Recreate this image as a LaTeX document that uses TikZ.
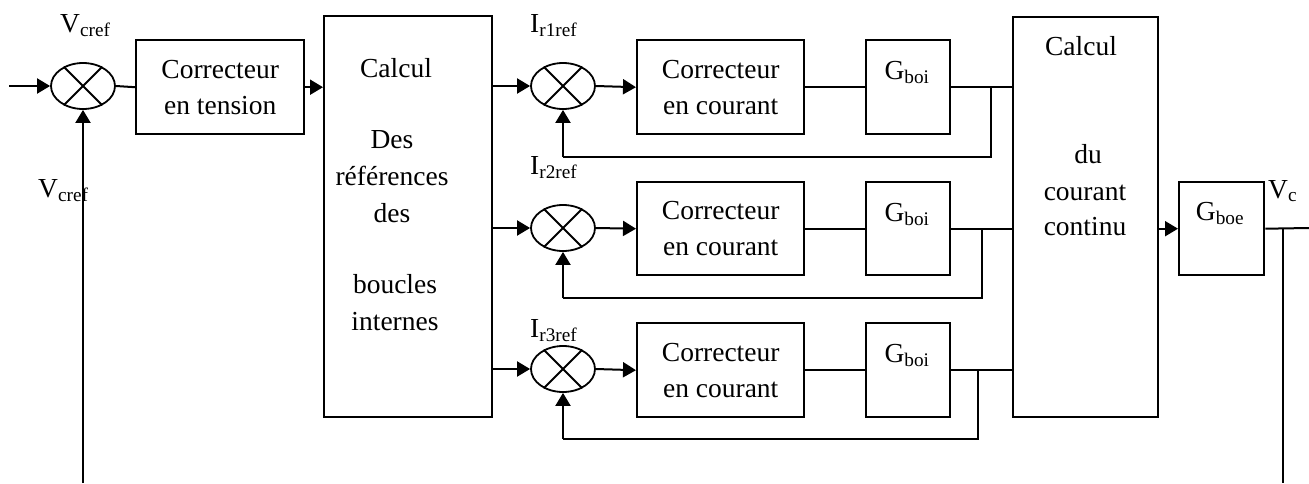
\documentclass[tikz,border=0pt]{standalone}
\usepackage{fontspec}
\setmainfont{Liberation Serif}
\usetikzlibrary{arrows.meta,calc,shapes.geometric}
\begin{document}
\begin{tikzpicture}[x=1pt,y=-1pt,
  font=\fontsize{27.5}{36}\selectfont,
  blk/.style={draw, line width=2.4pt, inner sep=0pt, anchor=north west, align=center},
  sumj/.style={draw, ellipse, line width=1.8pt, minimum width=64pt, minimum height=46pt, inner sep=0pt},
  cross/.style={line width=1.8pt},
  arr/.style={line width=2pt, -{Triangle[length=13pt,width=15pt]}},
  wire/.style={line width=2pt},
  lbl/.style={inner sep=0pt, anchor=base west},
  txt/.style={inner sep=0pt, anchor=base}
]
\useasboundingbox (0,0) rectangle (1309,483);

% ---------- outer voltage loop ----------
\coordinate (in) at (9,86);
\coordinate (fbv) at (83,483);
\node[sumj] (j1) at (83,86) {};
\draw[cross] (j1.135) -- (j1.-45) (j1.45) -- (j1.-135);
\node[blk, minimum width=168pt, minimum height=94pt] (ct) at (135,39) {Correcteur\\en tension};
\node[blk, minimum width=168pt, minimum height=401pt] (calc1) at (323,15) {};
\node[txt] (c1a) at (396,77) {Calcul};
\node[txt] (c1b) at (392,148) {Des};
\node[txt] (c1c) at (392,185) {références};
\node[txt] (c1d) at (392,222) {des};
\node[txt] (c1e) at (395,293) {boucles};
\node[txt] (c1f) at (395,330) {internes};

\node[lbl] (lv1) at (60,32) {V\textsubscript{cref}};
\node[lbl] (lv2) at (38,197) {V\textsubscript{cref}};

\draw[arr] (in) -- (j1.west);
\draw[arr] (fbv) -- (j1.south);
\draw[wire] (j1.east) -- (ct.west);
\draw[arr] (ct.east) -- (ct.east -| calc1.west);

% ---------- second calcul block ----------
\node[blk, minimum width=145pt, minimum height=400pt] (calc2) at (1012,16) {};
\node[txt] (c2a) at (1081,55) {Calcul};
\node[txt] (c2b) at (1088,163) {du};
\node[txt] (c2c) at (1085,200) {courant};
\node[txt] (c2d) at (1085,235) {continu};

% ---------- current loops ----------
% row 1
\node[sumj] (j2) at (563,86) {};
\draw[cross] (j2.135) -- (j2.-45) (j2.45) -- (j2.-135);
\node[blk, minimum width=167pt, minimum height=94pt] (cc1) at (636,39) {Correcteur\\en courant};
\node[blk, minimum width=84pt, minimum height=94pt] (g1) at (865,39) {};
\node[txt] (g1t) at (907,79) {G\textsubscript{boi}};
\coordinate (b1) at (991,86);
\coordinate (f1a) at (991,157);
\coordinate (f1b) at (563,157);
\node[lbl] (li1) at (530,32) {I\textsubscript{r1ref}};
\draw[arr] (calc1.east |- j2) -- (j2.west);
\draw[arr] (j2.east) -- (cc1.west);
\draw[wire] (cc1.east) -- (g1.west);
\draw[wire] (g1.east) -- (g1.east -| calc2.west);
\draw[wire] (b1) -- (f1a) -- (f1b);
\draw[arr] (f1b) -- (j2.south);

% row 2
\node[sumj] (j3) at (563,228) {};
\draw[cross] (j3.135) -- (j3.-45) (j3.45) -- (j3.-135);
\node[blk, minimum width=167pt, minimum height=93pt] (cc2) at (636,181) {Correcteur\\en courant};
\node[blk, minimum width=84pt, minimum height=93pt] (g2) at (865,181) {};
\node[txt] (g2t) at (907,221) {G\textsubscript{boi}};
\coordinate (b2) at (982,228);
\coordinate (f2a) at (982,298);
\coordinate (f2b) at (563,298);
\node[lbl] (li2) at (530,174) {I\textsubscript{r2ref}};
\draw[arr] (calc1.east |- j3) -- (j3.west);
\draw[arr] (j3.east) -- (cc2.west);
\draw[wire] (cc2.east) -- (g2.west);
\draw[wire] (g2.east) -- (g2.east -| calc2.west);
\draw[wire] (b2) -- (f2a) -- (f2b);
\draw[arr] (f2b) -- (j3.south);

% row 3
\node[sumj] (j4) at (563,369) {};
\draw[cross] (j4.135) -- (j4.-45) (j4.45) -- (j4.-135);
\node[blk, minimum width=167pt, minimum height=94pt] (cc3) at (636,322) {Correcteur\\en courant};
\node[blk, minimum width=84pt, minimum height=94pt] (g3) at (865,322) {};
\node[txt] (g3t) at (907,362) {G\textsubscript{boi}};
\coordinate (b3) at (978,369);
\coordinate (f3a) at (978,439);
\coordinate (f3b) at (563,439);
\node[lbl] (li3) at (530,337) {I\textsubscript{r3ref}};
\draw[arr] (calc1.east |- j4) -- (j4.west);
\draw[arr] (j4.east) -- (cc3.west);
\draw[wire] (cc3.east) -- (g3.west);
\draw[wire] (g3.east) -- (g3.east -| calc2.west);
\draw[wire] (b3) -- (f3a) -- (f3b);
\draw[arr] (f3b) -- (j4.south);

% ---------- output ----------
\node[blk, minimum width=85pt, minimum height=93pt] (gboe) at (1178,181) {};
\node[txt] (gbt) at (1220,220) {G\textsubscript{boe}};
\coordinate (out) at (1309,228);
\coordinate (bo) at (1283,228);
\coordinate (bod) at (1283,483);
\node[lbl] (lvc) at (1268,198) {V\textsubscript{c}};
\draw[arr] (calc2.east |- gboe) -- (gboe.west);
\draw[wire] (gboe.east) -- (out);
\draw[wire] (bo) -- (bod);
\end{tikzpicture}
\end{document}
